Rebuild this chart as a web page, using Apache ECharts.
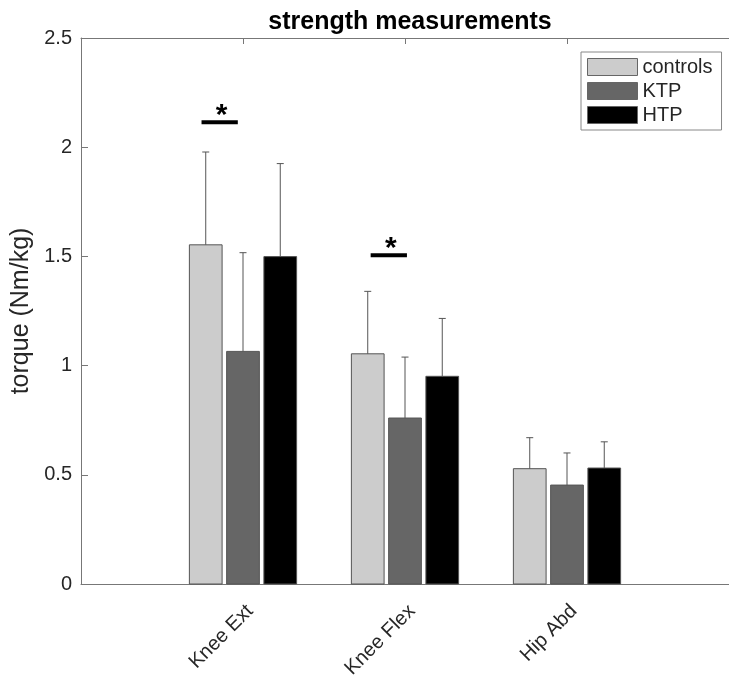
<!DOCTYPE html>
<html>
<head>
<meta charset="utf-8">
<title>strength measurements</title>
<script src="https://cdn.jsdelivr.net/npm/echarts@6/dist/echarts.min.js"></script>
<style>
  html, body { margin: 0; padding: 0; background: #ffffff; }
  #chart { width: 729px; height: 686px; }
</style>
</head>
<body>
<div id="chart"></div>
<script>
// Groups along the x axis (placed at x = 1, 2, 3)
const categories = ['Knee Ext', 'Knee Flex', 'Hip Abd'];

// Mean torque (Nm/kg) and standard deviation per group
const controlsMean = [1.553, 1.054, 0.528];
const controlsSD   = [0.425, 0.286, 0.142];
const ktpMean      = [1.065, 0.760, 0.453];
const ktpSD        = [0.452, 0.279, 0.147];
const htpMean      = [1.499, 0.951, 0.531];
const htpSD        = [0.426, 0.265, 0.120];

// Significance brackets: start x, end x, height (axis units)
const sigStart  = [0.744, 1.788];
const sigEnd    = [0.968, 2.012];
const sigHeight = [2.114, 1.505];

const yTicks = [0, 0.5, 1, 1.5, 2, 2.5];

const FONT = '"Liberation Sans", Arial, Helvetica, sans-serif';
const AXIS_COLOR = '#777777';
const TEXT_COLOR = '#262626';

// Bar geometry in x-axis units
const BAR_W = 0.202;
const BAR_STEP = 0.230;

const groups = [
  { name: 'controls', mean: controlsMean, sd: controlsSD, color: '#cccccc', off: -1 },
  { name: 'KTP',      mean: ktpMean,      sd: ktpSD,      color: '#666666', off: 0 },
  { name: 'HTP',      mean: htpMean,      sd: htpSD,      color: '#000000', off: 1 }
];

function barSeries(g) {
  const data = categories.map((c, i) => [i + 1, g.mean[i], g.sd[i]]);
  return {
    name: g.name,
    type: 'custom',
    itemStyle: { color: g.color },
    data: data,
    encode: { x: 0, y: 1 },
    renderItem: function (params, api) {
      const x = api.value(0) + g.off * BAR_STEP;
      const v = api.value(1);
      const sd = api.value(2);
      const base = api.coord([x, 0]);
      const top = api.coord([x, v]);
      const errTop = api.coord([x, v + sd]);
      const w = api.size([BAR_W, 0])[0];
      const cap = 3.5;
      return {
        type: 'group',
        children: [
          {
            type: 'rect',
            shape: { x: top[0] - w / 2, y: top[1], width: w, height: base[1] - top[1] },
            style: { fill: g.color, stroke: '#555555', lineWidth: 1 }
          },
          {
            type: 'line',
            shape: { x1: top[0], y1: top[1], x2: errTop[0], y2: errTop[1] },
            style: { stroke: '#555555', lineWidth: 1 }
          },
          {
            type: 'line',
            shape: { x1: errTop[0] - cap, y1: errTop[1], x2: errTop[0] + cap, y2: errTop[1] },
            style: { stroke: '#555555', lineWidth: 1 }
          }
        ]
      };
    },
    z: 2
  };
}

const sigData = sigStart.map((s, i) => [s, sigEnd[i], sigHeight[i]]);

const sigSeries = {
  name: 'significance',
  type: 'custom',
  data: sigData,
  encode: { x: [0, 1], y: 2 },
  renderItem: function (params, api) {
    const a = api.coord([api.value(0), api.value(2)]);
    const b = api.coord([api.value(1), api.value(2)]);
    return {
      type: 'group',
      children: [
        {
          type: 'line',
          shape: { x1: a[0], y1: a[1], x2: b[0], y2: b[1] },
          style: { stroke: '#000000', lineWidth: 4 }
        },
        {
          type: 'text',
          style: {
            text: '*',
            x: (a[0] + b[0]) / 2 + 2,
            y: a[1] - 7,
            align: 'center',
            verticalAlign: 'middle',
            fill: '#000000',
            font: 'bold 30px ' + FONT
          }
        }
      ]
    };
  },
  z: 3
};

const chart = echarts.init(document.getElementById('chart'), null, { renderer: 'canvas' });

chart.setOption({
  backgroundColor: '#ffffff',
  animation: false,
  textStyle: { fontFamily: FONT },
  title: {
    text: 'strength measurements',
    left: 405,
    textAlign: 'center',
    top: 5,
    textStyle: { fontFamily: FONT, fontSize: 25, fontWeight: 'bold', color: '#000000' }
  },
  legend: {
    orient: 'vertical',
    left: 581,
    top: 52,
    padding: [5, 9, 5, 6],
    itemWidth: 50,
    itemHeight: 17,
    itemGap: 4,
    backgroundColor: '#ffffff',
    borderColor: '#888888',
    borderWidth: 1,
    borderRadius: 0,
    selectedMode: false,
    textStyle: { fontFamily: FONT, fontSize: 20, lineHeight: 20, color: TEXT_COLOR },
    data: groups.map(g => ({
      name: g.name,
      icon: 'rect',
      itemStyle: { color: g.color, borderColor: '#666666', borderWidth: 1 }
    }))
  },
  grid: { left: 81, top: 38, width: 653, height: 546, containLabel: false },
  xAxis: [
    {
      type: 'value',
      position: 'bottom',
      min: 0,
      max: 4,
      interval: 1,
      splitLine: { show: false },
      axisLine: { show: true, lineStyle: { color: AXIS_COLOR, width: 1 } },
      axisTick: { show: true, inside: true, length: 6, lineStyle: { color: AXIS_COLOR } },
      axisLabel: {
        rotate: 45,
        margin: 17,
        verticalAlign: 'top',
        fontFamily: FONT,
        fontSize: 20,
        color: TEXT_COLOR,
        showMinLabel: false,
        showMaxLabel: false,
        formatter: v => categories[v - 1] || ''
      }
    },
    {
      type: 'value',
      position: 'top',
      min: 0,
      max: 4,
      interval: 1,
      splitLine: { show: false },
      axisLine: { show: true, lineStyle: { color: AXIS_COLOR, width: 1 } },
      axisTick: { show: true, inside: true, length: 6, lineStyle: { color: AXIS_COLOR } },
      axisLabel: { show: false }
    }
  ],
  yAxis: {
    type: 'value',
    min: yTicks[0],
    max: yTicks[yTicks.length - 1],
    interval: 0.5,
    name: 'torque (Nm/kg)',
    nameLocation: 'middle',
    nameGap: 40,
    nameTextStyle: { fontFamily: FONT, fontSize: 25, color: TEXT_COLOR },
    splitLine: { show: false },
    axisLine: { show: true, lineStyle: { color: AXIS_COLOR, width: 1 } },
    axisTick: { show: true, inside: true, length: 7, lineStyle: { color: AXIS_COLOR } },
    axisLabel: { margin: 9, fontFamily: FONT, fontSize: 20, color: TEXT_COLOR }
  },
  series: groups.map(barSeries).concat([sigSeries])
});
</script>
</body>
</html>
